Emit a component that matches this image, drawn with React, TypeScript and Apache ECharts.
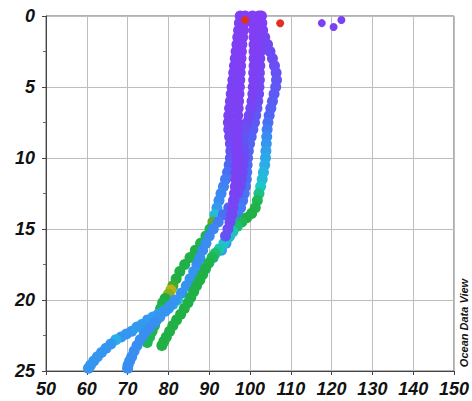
import React, { useEffect, useRef } from "react";
import * as echarts from "echarts";

// [value (x), depth (m), colour value]
const castA: number[][] = [
  [102.2,0,3],[102.3,0.5,3],[102.4,1,3],[102.5,1.5,3],[102.5,2,4],[102.5,2.5,4],[102.4,3,5],[102.4,3.5,5],[102.3,4,6],[102.3,4.5,7],[102.2,5,8],[102.1,5.5,9],[101.9,6,10],[101.7,6.5,12],[101.4,7,14],[101.1,7.5,15],[100.7,8,16],[100.3,8.5,17],[99.9,9,18],[99.6,9.5,19],[99.4,10,20],[99.3,10.5,21],[99.2,11,22],[99.1,11.5,22],[98.9,12,23],[98.6,12.5,23],[98.2,13,24],[97.7,13.5,25],[97.1,14,26],[96.5,14.5,28],[95.8,15,30],[95.0,15.5,31],[94.1,16,32],[93.0,16.5,34],[91.0,17,37],[89.2,17.5,41],[87.4,18,44],[85.9,18.5,46],[84.6,19,47],[83.4,19.5,47],[82.2,20,45],[81.1,20.3,42],[80.0,20.6,39],[78.7,20.8,36],[77.5,21.0,35],[76.2,21.2,35],[74.9,21.4,34],[73.6,21.7,34],[72.3,21.9,34],[71.0,22.2,34],[69.7,22.4,33],[68.4,22.6,33],[67.1,22.8,40],[65.9,23.1,33],[64.7,23.4,33],[63.6,23.7,33],[62.6,24.0,33],[61.7,24.3,33],[60.9,24.6,33],[60.4,24.8,33]
];
const castB: number[][] = [
  [100.6,0,3],[100.8,0.5,3],[100.9,1,3],[101.0,1.5,3],[101.0,2,3],[101.0,2.5,3],[101.0,3,4],[101.0,3.5,4],[100.9,4,4],[100.9,4.5,4],[100.8,5,5],[100.7,5.5,5],[100.5,6,6],[100.2,6.5,7],[99.8,7,8],[99.3,7.5,9],[98.8,8,11],[98.4,8.5,13],[98.3,9,12],[98.5,9.5,10],[98.5,10,9],[98.3,10.5,8],[98.1,11,8],[97.9,11.5,8],[97.6,12,9],[97.0,12.5,10],[96.0,13,14],[94.8,13.5,18],[93.5,14,22],[92.2,14.5,26],[91.0,15,28],[90.0,15.5,29],[89.2,16,30],[88.4,16.5,30],[87.7,17,31],[87.0,17.5,31],[86.2,18,32],[85.3,18.5,32],[84.4,19,32],[83.2,19.5,32],[81.6,20,32],[80.4,20.4,32],[79.2,20.8,32],[77.9,21.2,32],[76.6,21.6,31],[75.3,22.0,31],[74.1,22.4,31],[73.1,22.8,31],[72.3,23.2,31],[71.6,23.6,31],[71.0,24.0,31],[70.5,24.3,31],[70.1,24.6,31],[70.0,24.8,31]
];
const castC: number[][] = [
  [97.6,0,4],[97.4,0.5,4],[97.2,1,4],[97.0,1.5,4],[96.8,2,4],[96.6,2.5,4],[96.4,3,4],[96.2,3.5,4],[96.0,4,5],[95.8,4.5,5],[95.6,5,5],[95.4,5.5,5],[95.2,6,5],[95.0,6.5,5],[94.8,7,5],[94.7,7.5,5],[94.8,8,6],[95.0,8.5,7],[95.2,9,9],[95.3,9.5,12],[95.2,10,15],[94.9,10.5,19],[94.5,11,22],[94.0,11.5,25],[93.5,12,27],[92.9,12.5,29],[92.4,13,30],[91.9,13.5,34],[91.4,14,45],[90.9,14.5,74],[90.2,15,64],[89.2,15.5,65],[87.9,16,65],[86.6,16.5,66],[85.3,17,66],[84.0,17.5,66],[82.8,18,66],[81.9,18.5,67],[81.1,19,72],[80.6,19.3,80],[80.0,19.6,77],[79.2,19.9,68],[78.6,20.2,66],[78.1,20.6,65],[77.6,21.0,65],[77.1,21.4,64],[76.6,21.8,64],[76.0,22.2,64],[75.4,22.6,63],[74.8,23.0,63]
];
const castD: number[][] = [
  [102.8,0,3],[102.9,0.5,3],[103.1,1,4],[103.6,1.5,5],[104.3,2,7],[104.9,2.5,9],[105.5,3,10],[106.0,3.5,11],[106.4,4,12],[106.5,4.5,13],[106.3,5,14],[105.9,5.5,15],[105.5,6,16],[105.1,6.5,17],[104.7,7,19],[104.4,7.5,22],[104.2,8,26],[104.1,8.5,30],[104.0,9,33],[103.9,9.5,36],[103.8,10,38],[103.6,10.5,40],[103.3,11,42],[103.0,11.5,45],[102.6,12,50],[102.2,12.5,56],[101.8,13,62],[101.3,13.5,65],[100.4,13.9,66],[99.2,14.2,66],[98.0,14.5,63],[96.9,14.8,58],[95.8,15.2,52],[94.7,15.6,48],[93.6,16.0,48],[92.5,16.4,52],[91.5,16.7,58],[90.7,17.0,63],[89.9,17.4,65],[89.1,17.8,66],[88.4,18.2,66],[87.7,18.6,66],[86.9,19.0,66],[86.2,19.4,66],[85.5,19.8,66],[84.8,20.2,66],[83.9,20.6,66],[83.0,21.0,66],[82.0,21.4,66],[81.1,21.8,66],[80.3,22.2,66],[79.5,22.6,66],[78.9,22.9,66],[78.4,23.2,66]
];
const castE: number[][] = [
  [98.8,0,3],[98.6,0.5,3],[98.4,1,3],[98.2,1.5,3],[98.0,2,3],[97.9,2.5,3],[97.8,3,3],[97.7,3.5,3],[97.6,4,4],[97.5,4.5,4],[97.4,5,4],[97.3,5.5,4],[97.2,6,4],[97.1,6.5,4],[97.0,7,4],[96.9,7.5,4],[96.8,8,4],[96.7,8.5,4],[96.7,9,4],[96.8,9.5,4],[96.8,10,4],[96.7,10.5,4],[96.6,11,5],[96.5,11.5,5],[96.4,12,5],[96.2,12.5,5],[96.0,13,6],[95.8,13.5,6],[95.5,14,7],[95.1,14.5,8],[94.6,15,10],[94.0,15.5,12]
];
const surface: number[][] = [
  [98.8,0.28,100],[107.4,0.51,100],[117.6,0.5,5],[120.5,0.77,5],[122.4,0.28,5]
];
const xTicks = { min: 50, max: 150, step: 10 };
const yTicks = { min: 0, max: 25, step: 5 };
const palette = ["#8a38f4","#6c4cf4","#4e68f4","#3a8cf2","#2aaeea","#1ec6c8","#1cbd5c","#24a836","#b4b414","#f07a1e","#e0301e"];

const labelFont = {
  fontSize: 18,
  fontWeight: "bold" as const,
  fontStyle: "italic" as const,
  fontFamily: "Liberation Sans, Arial, sans-serif",
  color: "#111",
};

export default function App() {
  const ref = useRef<HTMLDivElement>(null);
  useEffect(() => {
    if (!ref.current) return;
    const chart = echarts.init(ref.current, undefined, { renderer: "svg" });
    const casts = [castC, castA, castB, castD, castE];
    chart.setOption({
      animation: false,
      backgroundColor: "#fff",
      grid: { left: 46, right: 18, top: 16, bottom: 30, show: true, borderColor: "#666", borderWidth: 1 },
      xAxis: {
        type: "value",
        position: "bottom",
        min: xTicks.min,
        max: xTicks.max,
        interval: xTicks.step,
        axisLine: { show: true, onZero: false, lineStyle: { color: "#444", width: 1 } },
        axisTick: { show: true, length: 4, lineStyle: { color: "#444" } },
        axisLabel: { ...labelFont, margin: 9 },
        splitLine: { show: true, lineStyle: { color: "#bdbdbd", width: 1 } },
      },
      yAxis: {
        type: "value",
        inverse: true,
        min: yTicks.min,
        max: yTicks.max,
        interval: yTicks.step,
        axisLine: { show: true, onZero: false, lineStyle: { color: "#444", width: 1 } },
        axisTick: { show: true, length: 4, lineStyle: { color: "#444" } },
        minorTick: { show: true, splitNumber: 2, length: 3, lineStyle: { color: "#666" } },
        axisLabel: { ...labelFont, margin: 11 },
        splitLine: { show: true, lineStyle: { color: "#bdbdbd", width: 1 } },
      },
      visualMap: {
        type: "continuous",
        show: false,
        min: 0,
        max: 100,
        dimension: 2,
        inRange: { color: palette },
      },
      series: [
        ...casts.map((d) => ({
          type: "scatter",
          data: d,
          symbol: "circle",
          symbolSize: 11,
          itemStyle: { opacity: 1 },
          emphasis: { disabled: true },
        })),
        {
          type: "scatter",
          data: surface,
          symbol: "circle",
          symbolSize: 8,
          itemStyle: { opacity: 1 },
          emphasis: { disabled: true },
        },
      ],
      graphic: [
        {
          type: "text",
          x: 464,
          y: 323,
          rotation: Math.PI / 2,
          style: {
            text: "Ocean Data View",
            font: 'italic bold 11px "Liberation Sans", Arial, sans-serif',
            fill: "#111",
            textAlign: "center",
            textVerticalAlign: "middle",
          },
        },
      ],
    });
    return () => chart.dispose();
  }, []);
  return <div ref={ref} style={{ position: "fixed", left: 0, top: 0, width: 472, height: 401 }} />;
}
